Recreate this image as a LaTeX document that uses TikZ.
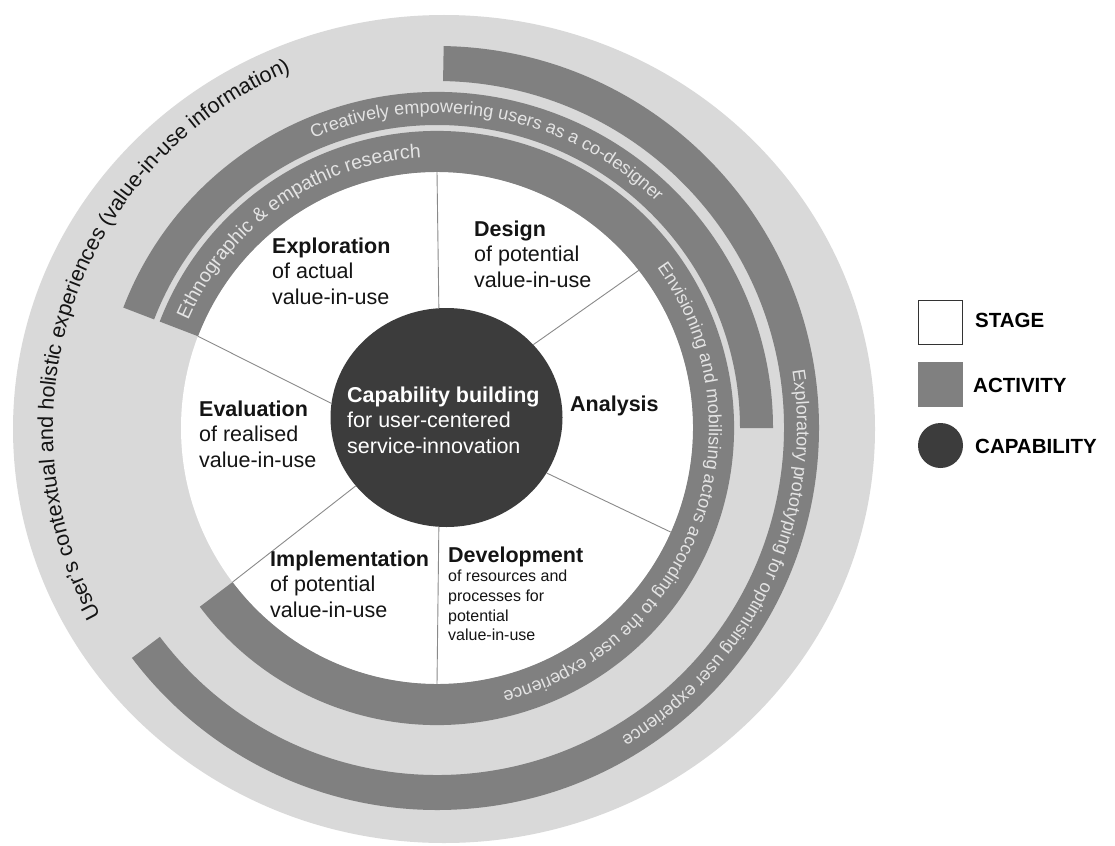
\documentclass[tikz,border=0pt]{standalone}
\usepackage{fontspec}
\setmainfont{Liberation Sans}
\usetikzlibrary{calc,decorations.text,shapes.geometric}

\definecolor{ringgrey}{HTML}{D9D9D9}
\definecolor{bandgrey}{HTML}{808080}
\definecolor{capgrey}{HTML}{3C3C3C}
\definecolor{bandtext}{HTML}{E4E4E4}
\definecolor{inktext}{HTML}{141414}
\definecolor{spokegrey}{HTML}{8A8A8A}
\definecolor{boxline}{HTML}{333333}

% left-aligned block whose reference point is the baseline of its first line
\newcommand\stack[1]{\vtop{\halign{##\hfil\cr#1\crcr}}}
\newcommand\stagefont{\fontsize{21.5}{25.5}\selectfont}
\newcommand\notefont{\fontsize{16}{19.7}\selectfont}
\newcommand\bandfont{\fontsize{18}{20}\selectfont}
\newcommand\wideband{\fontsize{19.5}{22}\selectfont}
\newcommand\ringfont{\fontsize{21.5}{24}\selectfont}
\newcommand\legendfont{\fontsize{20.5}{24}\selectfont\bfseries}

\begin{document}
\begin{tikzpicture}[x=1pt,y=1pt,
  band/.style={fill=bandgrey},
  spoke/.style={draw=spokegrey, line width=0.9pt},
  stagelabel/.style={anchor=base west, inner sep=0pt, text=inktext, font=\stagefont},
  bandlabel/.style={decorate, decoration={text along path, text align=center, text color=bandtext}},
  legendlabel/.style={anchor=base west, inner sep=0pt, text=black, font=\legendfont},
]
\useasboundingbox (0,0) rectangle (1115,-845);
\fill[white] (0,0) rectangle (1115,-845);

% centres of the wheel and of the outer ring
\coordinate (O) at (437,-428);
\coordinate (RC) at (441,-429);

% outer context ring and the white stage disc
\fill[ringgrey] (444,-429) ellipse [x radius=431, y radius=414];
\fill[white] (O) circle[radius=256];

% activity bands (annular sectors, drawn clockwise)
\fill[band] ($(O)+(159:297)$) arc[start angle=159, end angle=-143, radius=297]
  -- ($(O)+(-143:256)$) arc[start angle=-143, end angle=159, radius=256] -- cycle;
\fill[band] ($(O)+(159:336)$) arc[start angle=159, end angle=0, radius=336]
  -- ($(O)+(0:303)$) arc[start angle=0, end angle=159, radius=303] -- cycle;
\fill[band] ($(O)+(89:382)$) arc[start angle=89, end angle=-143, radius=382]
  -- ($(O)+(-143:347)$) arc[start angle=-143, end angle=89, radius=347] -- cycle;

% band captions
\path[bandlabel, decoration={text={|\wideband|Ethnographic {\&} empathic research}}]
  ($(O)+(175:271)$) arc[start angle=175, end angle=75, radius=271];
\path[bandlabel, decoration={text={|\bandfont|Envisioning and mobilising actors according to the user experience}}]
  ($(O)+(50:272)$) arc[start angle=50, end angle=-90, radius=272];
\path[bandlabel, decoration={text={|\bandfont|Creatively empowering users as a co-designer}}]
  ($(O)+(134.5:315)$) arc[start angle=134.5, end angle=24.5, radius=315];
\path[bandlabel, decoration={text={|\bandfont|Exploratory prototyping for optimising user experience}}]
  ($(O)+(30:360)$) arc[start angle=30, end angle=-80, radius=360];

% outer ring caption
\path[decorate, decoration={text along path, text align=center, text color=inktext,
  text={|\ringfont|User’s contextual and holistic experiences (value-in-use information)}}]
  ($(RC)+(225.75:388)$) arc[start angle=225.75, end angle=95.75, radius=388];

% capability core
\node[ellipse, fill=capgrey, minimum width=232pt, minimum height=219pt, inner sep=0pt]
  (cap) at (446.5,-417.5) {};

% stage dividers
\coordinate (w1) at ($(O)+(90:256)$);
\coordinate (w2) at ($(O)+(38:256)$);
\coordinate (w3) at ($(O)+(-24:256)$);
\coordinate (w4) at ($(O)+(-90:256)$);
\coordinate (w5) at ($(O)+(217:256)$);
\coordinate (w6) at ($(O)+(159:256)$);
\draw[spoke] (w1) -- (cap.94);
\draw[spoke] (w2) -- (cap.40);
\draw[spoke] (w3) -- (cap.-29);
\draw[spoke] (w4) -- (cap.266);
\draw[spoke] (w5) -- (cap.217);
\draw[spoke] (w6) -- (cap.173);

% stage labels
\node[stagelabel] (exploration) at (272,-253)
  {\stack{\textbf{Exploration}\cr of actual\cr value-in-use}};
\node[stagelabel] (design) at (474,-236)
  {\stack{\textbf{Design}\cr of potential\cr value-in-use}};
\node[stagelabel] (analysis) at (570,-411) {\textbf{Analysis}};
\node[stagelabel] (evaluation) at (199,-416)
  {\stack{\textbf{Evaluation}\cr of realised\cr value-in-use}};
\node[stagelabel] (implementation) at (270,-566)
  {\stack{\textbf{Implementation}\cr of potential\cr value-in-use}};
\node[stagelabel, font=\notefont] (development) at (448,-562)
  {\stack{\stagefont\textbf{Development}\cr of resources and\cr processes for\cr potential\cr value-in-use}};
\node[stagelabel, text=white] (captext) at (347,-402)
  {\stack{\textbf{Capability building}\cr for user-centered\cr service-innovation}};

% legend
\node[draw=boxline, line width=1.6pt, fill=white, minimum size=44pt, inner sep=0pt]
  (lgstage) at (940.5,-322.5) {};
\node[fill=bandgrey, minimum size=45pt, inner sep=0pt] (lgactivity) at (940.5,-384.5) {};
\node[circle, fill=capgrey, minimum size=45pt, inner sep=0pt] (lgcap) at (940.5,-445.5) {};
\node[legendlabel] (lgstagetext) at (975,-327) {STAGE};
\node[legendlabel] (lgactivitytext) at (973,-392) {ACTIVITY};
\node[legendlabel] (lgcaptext) at (975,-453) {CAPABILITY};
\end{tikzpicture}
\end{document}
